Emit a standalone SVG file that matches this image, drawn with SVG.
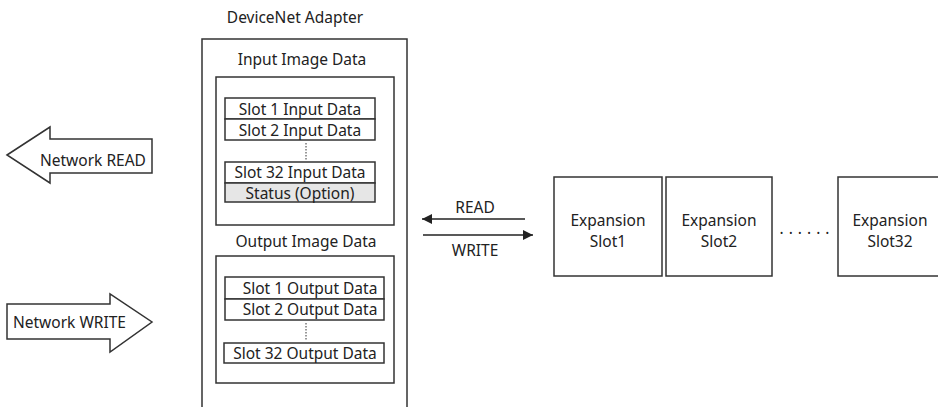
<svg xmlns="http://www.w3.org/2000/svg" width="938" height="407" viewBox="0 0 938 407">
<defs>
<style>
text{font-family:"Noto Sans","Open Sans","DejaVu Sans",sans-serif;font-size:15.5px;fill:#222;}
.c{text-anchor:middle;}
.box{fill:#fff;stroke:#333;stroke-width:1.5;}
.gray{fill:#e6e6e6;stroke:#333;stroke-width:1.5;}
.ln{stroke:#222;stroke-width:1.5;fill:none;}
.dot{stroke:#333;stroke-width:1;stroke-dasharray:1.5 1.5;fill:none;}
</style>
<marker id="ah" markerWidth="10" markerHeight="10" refX="10" refY="5" orient="auto" markerUnits="userSpaceOnUse">
<path d="M0,0 L10,5 L0,10 Z" fill="#222"/>
</marker>
</defs>
<rect width="938" height="407" fill="#fff"/>

<g id="network-read">
<polygon class="box" points="7,155 50,127 50,139 152,139 152,173 50,173 50,183"/>
<text x="40" y="166">Network READ</text>
</g>

<g id="network-write">
<polygon class="box" points="7,304 110,304 110,294 152,322 110,352 110,339 7,339"/>
<text x="13" y="328">Network WRITE</text>
</g>

<g id="adapter">
<text class="c" x="295" y="23">DeviceNet Adapter</text>
<rect class="box" x="202" y="39" width="205" height="380"/>
</g>

<g id="input-image">
<text class="c" x="302" y="65">Input Image Data</text>
<rect class="box" x="216" y="77" width="178" height="148"/>
<rect class="box" x="225" y="98" width="150" height="21"/>
<text class="c" x="300" y="115">Slot 1 Input Data</text>
<rect class="box" x="225" y="119" width="150" height="21"/>
<text class="c" x="300" y="136">Slot 2 Input Data</text>
<line class="dot" x1="306" y1="143" x2="306" y2="160"/>
<rect class="box" x="225" y="162" width="150" height="21"/>
<text class="c" x="300" y="178">Slot 32 Input Data</text>
<rect class="gray" x="225" y="183" width="150" height="19"/>
<text class="c" x="300" y="199">Status (Option)</text>
</g>

<g id="output-image">
<text class="c" x="306" y="247">Output Image Data</text>
<rect class="box" x="216" y="256" width="178" height="127"/>
<rect class="box" x="225" y="277" width="159" height="22"/>
<text class="c" x="310" y="294">Slot 1 Output Data</text>
<rect class="box" x="225" y="299" width="159" height="21"/>
<text class="c" x="310" y="315">Slot 2 Output Data</text>
<line class="dot" x1="306" y1="323" x2="306" y2="340"/>
<rect class="box" x="224" y="343" width="160" height="20"/>
<text class="c" x="305" y="359">Slot 32 Output Data</text>
</g>

<g id="connectors">
<line class="ln" x1="525" y1="219" x2="422" y2="219" marker-end="url(#ah)"/>
<line class="ln" x1="423" y1="235" x2="533" y2="235" marker-end="url(#ah)"/>
<text class="c" x="475" y="213">READ</text>
<text class="c" x="475" y="256">WRITE</text>
</g>

<g id="slot1">
<rect class="box" x="554" y="177" width="108" height="99"/>
<text class="c" x="608" y="226">Expansion</text>
<text class="c" x="608" y="247">Slot1</text>
</g>
<g id="slot2">
<rect class="box" x="666" y="177" width="106" height="99"/>
<text class="c" x="719" y="226">Expansion</text>
<text class="c" x="719" y="247">Slot2</text>
</g>
<g id="dots">
<text class="c" x="807" y="234" letter-spacing="5" font-size="13">......</text>
</g>
<g id="slot32">
<rect class="box" x="838" y="177" width="110" height="99"/>
<text class="c" x="890" y="226">Expansion</text>
<text class="c" x="890" y="247">Slot32</text>
</g>
</svg>
